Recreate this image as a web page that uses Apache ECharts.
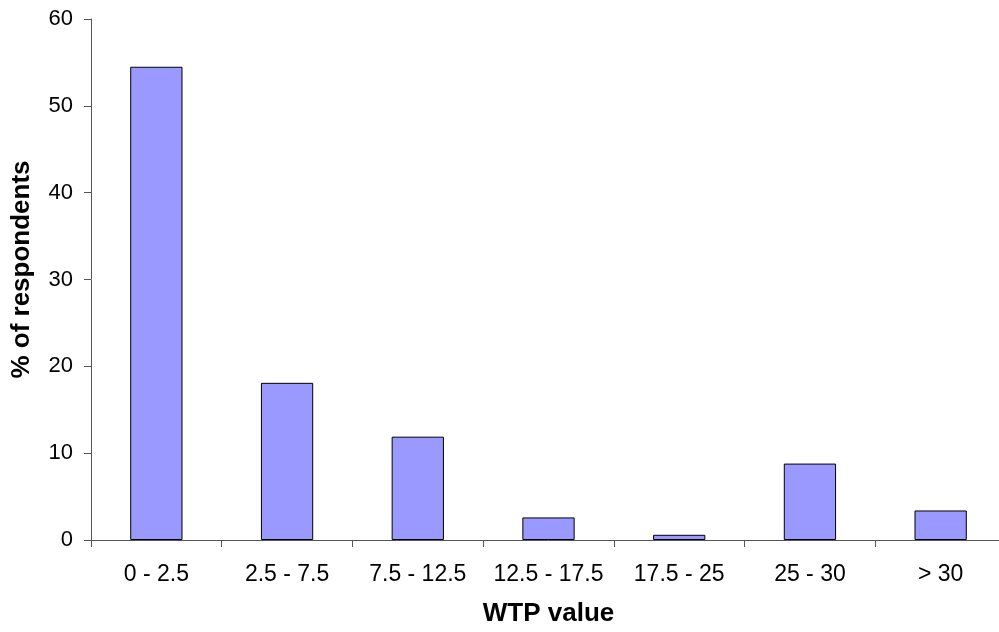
<!DOCTYPE html>
<html>
<head>
<meta charset="utf-8">
<script src="https://cdn.jsdelivr.net/npm/echarts@6/dist/echarts.min.js"></script>
<style>html,body{margin:0;padding:0;background:#fff;overflow:hidden}#c{width:1006px;height:632px}</style>
</head>
<body>
<div id="c"></div>
<script>
var categories = ['0 - 2.5', '2.5 - 7.5', '7.5 - 12.5', '12.5 - 17.5', '17.5 - 25', '25 - 30', '> 30'];
var values = [54.5, 18.1, 11.9, 2.6, 0.6, 8.8, 3.4];
var yTicks = [0, 10, 20, 30, 40, 50, 60];

var chart = echarts.init(document.getElementById('c'));
chart.setOption({
  animation: false,
  backgroundColor: '#fff',
  grid: { left: 91, top: 19, right: 0, height: 522, containLabel: false },
  xAxis: {
    type: 'category',
    data: categories,
    name: 'WTP value',
    nameLocation: 'middle',
    nameGap: 61,
    nameTextStyle: { fontFamily: 'Liberation Sans, Arial', fontSize: 26, fontWeight: 'bold', color: '#000' },
    axisLine: { lineStyle: { color: '#555', width: 1 } },
    axisTick: { show: true, length: 7, lineStyle: { color: '#555' }, alignWithLabel: false },
    axisLabel: { margin: 23, fontFamily: 'Liberation Sans, Arial', fontSize: 23, color: '#000', interval: 0 },
    splitLine: { show: false }
  },
  yAxis: {
    type: 'value',
    min: yTicks[0],
    max: yTicks[yTicks.length - 1],
    interval: 10,
    name: '% of respondents',
    nameLocation: 'middle',
    nameGap: 56,
    nameTextStyle: { fontFamily: 'Liberation Sans, Arial', fontSize: 26, fontWeight: 'bold', color: '#000', padding: [0, 0, 0, 20] },
    axisLine: { show: true, lineStyle: { color: '#555', width: 1 } },
    axisTick: { show: true, length: 7, lineStyle: { color: '#555' } },
    axisLabel: { margin: 18, fontFamily: 'Liberation Sans, Arial', fontSize: 22, color: '#000' },
    splitLine: { show: false }
  },
  series: [{
    type: 'bar',
    data: values,
    barWidth: '40%',
    itemStyle: { color: '#9999FF', borderColor: '#000', borderWidth: 1 }
  }]
});
</script>
</body>
</html>
